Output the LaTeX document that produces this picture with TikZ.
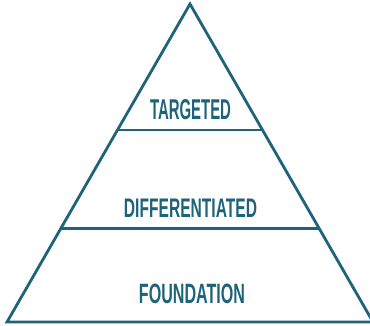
\documentclass[tikz,border=0pt]{standalone}
\usepackage{fontspec}
\setmainfont{Liberation Sans}
\usetikzlibrary{calc}
\definecolor{teal}{RGB}{30,99,121}
\begin{document}
\begin{tikzpicture}[x=1pt,y=-1pt,
  edge/.style={draw=teal,line width=2.8pt,line join=miter},
  tier/.style={draw=teal,line width=2.8pt},
  lbl/.style={text=teal,inner sep=0pt,anchor=center}]
\useasboundingbox (0,0) rectangle (370,325);
\coordinate (apex) at (190,4);
\coordinate (bl) at (7,322);
\coordinate (br) at (373,322);
\draw[edge] (apex) -- (bl) -- (br) -- cycle;
\coordinate (l1) at ($(apex)!0.3962!(bl)$);
\coordinate (r1) at ($(apex)!0.3962!(br)$);
\coordinate (l2) at ($(apex)!0.7066!(bl)$);
\coordinate (r2) at ($(apex)!0.7066!(br)$);
\draw[tier] (l1) -- (r1);
\draw[tier] (l2) -- (r2);
\node[lbl] (t) at (190.5,110) {\resizebox{81pt}{20pt}{\bfseries TARGETED}};
\node[lbl] (d) at (190.5,208) {\resizebox{133pt}{18.5pt}{\bfseries DIFFERENTIATED}};
\node[lbl] (f) at (192,293.5) {\resizebox{106pt}{19.5pt}{\bfseries FOUNDATION}};
\end{tikzpicture}
\end{document}
